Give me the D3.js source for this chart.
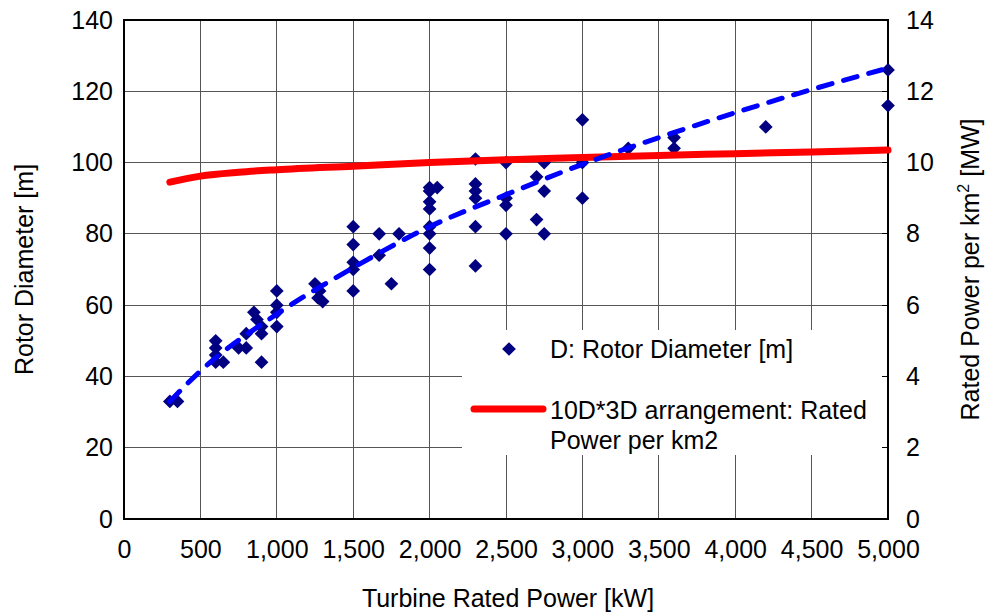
<!DOCTYPE html>
<html>
<head>
<meta charset="utf-8">
<script src="https://cdn.jsdelivr.net/npm/d3@7"></script>
<style>
  body { margin: 0; background: #fff; }
  svg text { font-family: "Liberation Sans", Arial, sans-serif; fill: #000; }
</style>
</head>
<body>
<svg width="987" height="614"></svg>
<script>
// turbine rated power [kW] vs rotor diameter [m]
var turbinePower = [300, 350, 600, 600, 600, 600, 650, 750, 800, 800, 850, 870, 900, 900, 900,
  1000, 1000, 1000, 1000, 1250, 1270, 1280, 1300, 1500, 1500, 1500, 1500, 1500,
  1670, 1670, 1750, 1800, 2000, 2000, 2000, 2000, 2000, 2000, 2000, 2000, 2050,
  2300, 2300, 2300, 2300, 2300, 2300, 2500, 2500, 2500, 2500,
  2700, 2700, 2750, 2750, 2750, 3000, 3000, 3000, 3300, 3600, 3600, 4200, 5000, 5000];
var rotorDiameter = [33, 33, 50, 48, 46, 44, 44, 48, 52, 48, 58, 56, 54, 52, 44,
  64, 60, 58, 54, 66, 62, 64, 61, 82, 77, 72, 70, 64,
  80, 74, 66, 80, 93, 92, 89, 87, 82, 80, 76, 70, 93,
  101, 94, 92, 90, 82, 71, 100, 90, 88, 80,
  96, 84, 100, 92, 80, 112, 100, 90, 104, 107, 104, 110, 126, 116];

// fitted rotor diameter (dashed)
var fitPower = [300, 500, 1000, 1500, 2000, 2500, 3000, 3500, 4000, 4500, 5000];
var fitDiameter = [33, 41.5, 57.5, 70.5, 82, 91, 99.5, 107, 114, 120.5, 126.5];

// 10D*3D arrangement: rated power per km2 [MW]
var densityPower = [300, 500, 750, 1000, 1500, 2000, 2500, 3000, 3500, 4000, 4500, 5000];
var densityMW = [9.45, 9.62, 9.73, 9.8, 9.9, 10.0, 10.08, 10.14, 10.2, 10.25, 10.3, 10.35];

var xTicks = d3.range(0, 5001, 500);
var yTicks = d3.range(0, 141, 20);
var y2Ticks = d3.range(0, 15, 2);

var svg = d3.select("svg");
var plotLeft = 124, plotRight = 888, plotTop = 20, plotBottom = 519;
var fontSize = 25;

var x = d3.scaleLinear().domain([0, 5000]).range([plotLeft, plotRight]);
var y = d3.scaleLinear().domain([0, 140]).range([plotBottom, plotTop]);
var y2 = d3.scaleLinear().domain([0, 14]).range([plotBottom, plotTop]);

// grid
svg.append("g")
  .selectAll("line")
  .data(xTicks)
  .enter().append("line")
    .attr("x1", function(d) { return x(d); })
    .attr("x2", function(d) { return x(d); })
    .attr("y1", plotTop).attr("y2", plotBottom)
    .attr("stroke", "#555").attr("stroke-width", 1)
    .attr("shape-rendering", "crispEdges");

svg.append("g")
  .selectAll("line")
  .data(yTicks)
  .enter().append("line")
    .attr("x1", plotLeft).attr("x2", plotRight)
    .attr("y1", function(d) { return y(d); })
    .attr("y2", function(d) { return y(d); })
    .attr("stroke", "#555").attr("stroke-width", 1)
    .attr("shape-rendering", "crispEdges");

// legend background hides the grid
var legend = svg.append("g");
legend.append("rect")
  .attr("x", 462).attr("y", 330)
  .attr("width", plotRight - 462 - 3).attr("height", 125)
  .attr("fill", "#fff");

// axes
var fmt = d3.format(",");
svg.append("g")
    .attr("transform", "translate(0," + plotBottom + ")")
    .call(d3.axisBottom(x).tickValues(xTicks).tickFormat(fmt).tickSize(0).tickPadding(21))
    .call(function(g) { g.select(".domain").remove(); })
    .selectAll("text").attr("font-size", fontSize).attr("font-family", "Liberation Sans, Arial, sans-serif");

svg.append("g")
    .attr("transform", "translate(" + plotLeft + ",0)")
    .call(d3.axisLeft(y).tickValues(yTicks).tickSize(0).tickPadding(11))
    .call(function(g) { g.select(".domain").remove(); })
    .selectAll("text").attr("font-size", fontSize).attr("font-family", "Liberation Sans, Arial, sans-serif");

svg.append("g")
    .attr("transform", "translate(" + plotRight + ",0)")
    .call(d3.axisRight(y2).tickValues(y2Ticks).tickSize(0).tickPadding(18))
    .call(function(g) { g.select(".domain").remove(); })
    .selectAll("text").attr("font-size", fontSize).attr("font-family", "Liberation Sans, Arial, sans-serif");

// inward tick marks on the right border
svg.append("g")
  .selectAll("line")
  .data(y2Ticks)
  .enter().append("line")
    .attr("x1", plotRight - 6).attr("x2", plotRight)
    .attr("y1", function(d) { return y2(d); })
    .attr("y2", function(d) { return y2(d); })
    .attr("stroke", "#000").attr("shape-rendering", "crispEdges");

svg.append("rect")
  .attr("x", plotLeft).attr("y", plotTop)
  .attr("width", plotRight - plotLeft).attr("height", plotBottom - plotTop)
  .attr("fill", "none").attr("stroke", "#000").attr("stroke-width", 1.5)
  .attr("shape-rendering", "crispEdges");

// scatter
var points = turbinePower.map(function(p, i) { return [p, rotorDiameter[i]]; });
var diamond = d3.symbol().type(d3.symbolDiamond2).size(120);
svg.append("g")
  .selectAll("path")
  .data(points)
  .enter().append("path")
    .attr("d", diamond)
    .attr("transform", function(d) { return "translate(" + x(d[0]) + "," + y(d[1]) + ")"; })
    .attr("fill", "#000080");

// red density line
var redLine = d3.line()
    .x(function(d) { return x(d[0]); })
    .y(function(d) { return y2(d[1]); })
    .curve(d3.curveMonotoneX);
svg.append("path")
  .datum(densityPower.map(function(p, i) { return [p, densityMW[i]]; }))
  .attr("d", redLine)
  .attr("fill", "none").attr("stroke", "#ff0000")
  .attr("stroke-width", 7).attr("stroke-linecap", "round");

// dashed fit
var fitLine = d3.line()
    .x(function(d) { return x(d[0]); })
    .y(function(d) { return y(d[1]); })
    .curve(d3.curveMonotoneX);
svg.append("path")
  .datum(fitPower.map(function(p, i) { return [p, fitDiameter[i]]; }))
  .attr("d", fitLine)
  .attr("fill", "none").attr("stroke", "#0000ff")
  .attr("stroke-width", 5).attr("stroke-linecap", "round")
  .attr("stroke-dasharray", "14,12");

// legend entries
legend.append("path")
  .attr("d", diamond)
  .attr("transform", "translate(509,349)")
  .attr("fill", "#000080");
legend.append("text")
  .attr("x", 550).attr("y", 358)
  .attr("font-size", fontSize)
  .text("D: Rotor Diameter [m]");
legend.append("line")
  .attr("x1", 474).attr("x2", 543)
  .attr("y1", 409).attr("y2", 409)
  .attr("stroke", "#ff0000").attr("stroke-width", 7).attr("stroke-linecap", "round");
legend.append("text")
  .attr("x", 550).attr("y", 419)
  .attr("font-size", fontSize)
  .text("10D*3D arrangement: Rated");
legend.append("text")
  .attr("x", 550).attr("y", 449)
  .attr("font-size", fontSize)
  .text("Power per km2");

// axis titles
svg.append("text")
  .attr("x", (plotLeft + plotRight) / 2 + 2).attr("y", 607)
  .attr("text-anchor", "middle").attr("font-size", fontSize)
  .text("Turbine Rated Power [kW]");

svg.append("text")
  .attr("transform", "translate(33," + (plotTop + plotBottom) / 2 + ") rotate(-90)")
  .attr("text-anchor", "middle").attr("font-size", fontSize)
  .text("Rotor Diameter [m]");

var t2 = svg.append("text")
  .attr("transform", "translate(979," + (plotTop + plotBottom) / 2 + ") rotate(-90)")
  .attr("text-anchor", "middle").attr("font-size", fontSize);
t2.append("tspan").text("Rated Power per km");
t2.append("tspan").attr("font-size", 16).attr("dy", -10).text("2");
t2.append("tspan").attr("dy", 10).text(" [MW]");
</script>
</body>
</html>
